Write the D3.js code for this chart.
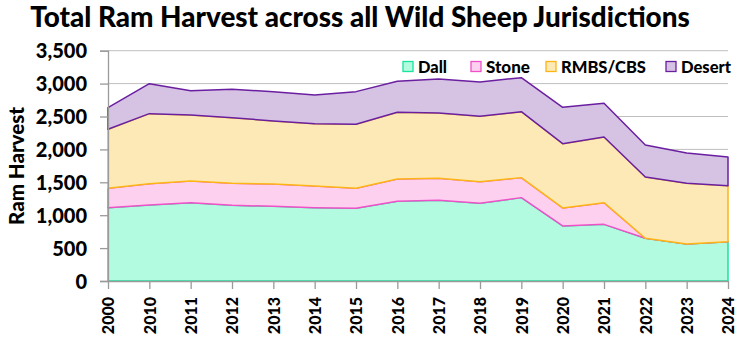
<!DOCTYPE html>
<html><head><meta charset="utf-8">
<script src="https://cdn.jsdelivr.net/npm/d3@7"></script>
<style>
html,body{margin:0;padding:0;background:#fff;}
text{font-family:Lato,"Open Sans",sans-serif;font-weight:900;fill:#000;}
</style></head>
<body><svg id="c" width="750" height="355"></svg>
<script>
const years = ["2000","2010","2011","2012","2013","2014","2015","2016","2017","2018","2019","2020","2021","2022","2023","2024"];
const dall   = [1114,1155,1191,1150,1135,1114,1104,1211,1226,1181,1267,836,861,649,562,598];
const stone  = [295,324,329,335,339,330,305,339,335,329,304,274,330,0,0,0];
const rmbs   = [897,1064,1003,997,958,947,973,1014,993,993,1003,977,998,932,923,851];
const desert = [328,456,370,431,446,436,496,471,516,522,516,553,512,486,461,436];
const seriesNames = ["Dall","Stone","RMBS/CBS","Desert"];
const yTicks = [0,500,1000,1500,2000,2500,3000,3500];
const title = "Total Ram Harvest across all Wild Sheep Jurisdictions";
const yTitle = "Ram Harvest";

const fills = ["#b3fbe0","#fdd0ef","#fde9b6","#d6c3e4"];
const strokes = ["#19e49c","#f050c8","#fdb515","#6a1fa0"];

const svg = d3.select("#c");
const L=108, R=728, T=50.7, B=281;
const x = d3.scalePoint().domain(years).range([L,R]);
const y = d3.scaleLinear().domain([0,3500]).range([B,T]);

function fitText(sel, target){
  const fs = +sel.attr("font-size");
  const w = sel.node().getComputedTextLength();
  sel.attr("font-size", fs*target/w);
}

// gridlines
svg.append("g").selectAll("line").data(yTicks.slice(1)).join("line")
  .attr("x1",L).attr("x2",R).attr("y1",d=>y(d)).attr("y2",d=>y(d))
  .attr("stroke","#bfbfbf").attr("stroke-width",1);

const table = years.map((yr,i)=>({year:yr, Dall:dall[i], Stone:stone[i], "RMBS/CBS":rmbs[i], Desert:desert[i]}));
const stack = d3.stack().keys(seriesNames)(table);
const area = d3.area().x(d=>x(d.data.year)).y0(d=>y(d[0])).y1(d=>y(d[1]));

stack.forEach((s,i)=>{
  svg.append("path").datum(s).attr("d",area)
    .attr("fill",fills[i]).attr("stroke",strokes[i]).attr("stroke-width",1.5).attr("stroke-linejoin","round");
});

// axes
const ya = svg.append("g").attr("transform",`translate(${L},0)`)
  .call(d3.axisLeft(y).tickValues(yTicks).tickSize(8).tickPadding(13).tickFormat(d3.format(",")));
ya.select(".domain").attr("stroke","#9a9a9a").attr("stroke-width",1.3);
ya.selectAll(".tick line").attr("stroke","#9a9a9a").attr("stroke-width",1.3);
ya.selectAll(".tick text").attr("font-size",20).attr("font-family","Lato").attr("font-weight",900).attr("dy","0.36em");

const xa = svg.append("g").attr("transform",`translate(0,${B})`)
  .call(d3.axisBottom(x).tickSize(8).tickSizeOuter(0));
xa.select(".domain").attr("stroke","#9a9a9a").attr("stroke-width",1.3);
xa.selectAll(".tick line").attr("stroke","#9a9a9a").attr("stroke-width",1.3);
xa.selectAll(".tick text").attr("font-size",16).attr("font-family","DejaVu Sans").attr("font-weight","bold")
  .attr("transform","rotate(-90)").attr("text-anchor","end").attr("x",-16).attr("y",0).attr("dy","0.36em");

// titles
const tt = svg.append("text").attr("x",360).attr("y",27).attr("text-anchor","middle")
  .attr("font-size",26).text(title);
fitText(tt,660);

const yt = svg.append("text").attr("transform",`translate(24,166) rotate(-90)`).attr("text-anchor","middle")
  .attr("font-size",20).text(yTitle);
fitText(yt,118);

// legend
const legX = [403,471,546,666];
const legW = [29,44,85,50];
const lg = svg.append("g");
seriesNames.forEach((n,i)=>{
  lg.append("rect").attr("x",legX[i]).attr("y",61.5).attr("width",10).attr("height",10)
    .attr("fill",fills[i]).attr("stroke",strokes[i]).attr("stroke-width",1.3);
  const t = lg.append("text").attr("x",legX[i]+15).attr("y",72.5).attr("font-size",16).text(n);
  fitText(t,legW[i]);
});
</script></body></html>
